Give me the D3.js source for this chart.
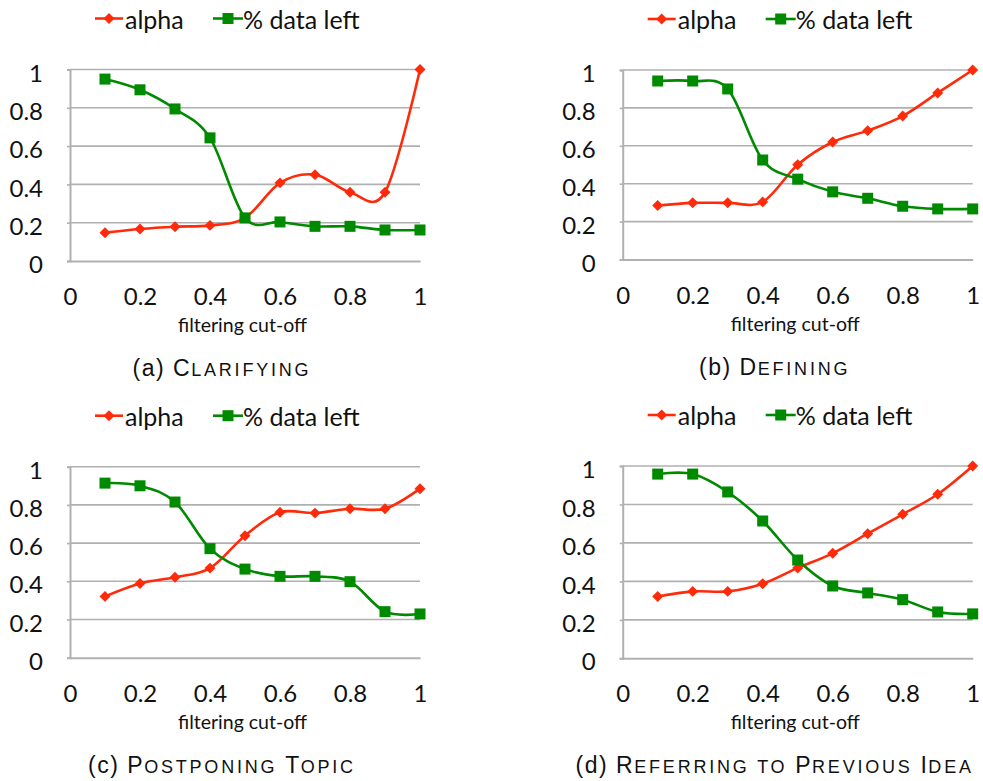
<!DOCTYPE html>
<html>
<head>
<meta charset="utf-8">
<script src="https://cdn.jsdelivr.net/npm/d3@7"></script>
<style>
  body { margin: 0; background: #fff; }
  svg { display: block; }
  .tick text { font-family: Lato, 'Noto Sans', sans-serif; }
</style>
</head>
<body>
<div id="chart"></div>
<script>
// filtering cut-off values (x)
var cutoff = [0.1, 0.2, 0.3, 0.4, 0.5, 0.6, 0.7, 0.8, 0.9, 1.0];
var xTicks = [0, 0.2, 0.4, 0.6, 0.8, 1];
var yTicks = [0, 0.2, 0.4, 0.6, 0.8, 1];

var seriesNames = ['alpha', '% data left'];
// caption parts: label, then words (first letter full cap, rest small caps)
var captionLabels = ['(a)', '(b)', '(c)', '(d)'];
var captionWords = [
  ['Clarifying'],
  ['Defining'],
  ['Postponing', 'Topic'],
  ['Referring', 'to', 'Previous', 'Idea']
];

// values
var alphaA = [0.148, 0.167, 0.179, 0.186, 0.225, 0.408, 0.451, 0.359, 0.359, 1.0];
var leftA  = [0.95, 0.894, 0.794, 0.643, 0.225, 0.204, 0.181, 0.181, 0.162, 0.162];
var alphaB = [0.285, 0.299, 0.299, 0.304, 0.50, 0.62, 0.68, 0.757, 0.879, 1.0];
var leftB  = [0.942, 0.942, 0.90, 0.525, 0.424, 0.357, 0.323, 0.281, 0.267, 0.267];
var alphaC = [0.321, 0.389, 0.421, 0.469, 0.639, 0.761, 0.757, 0.78, 0.78, 0.885];
var leftC  = [0.914, 0.90, 0.815, 0.571, 0.464, 0.426, 0.426, 0.398, 0.241, 0.229];
var alphaD = [0.321, 0.348, 0.348, 0.388, 0.47, 0.546, 0.648, 0.749, 0.853, 1.0];
var leftD  = [0.958, 0.958, 0.865, 0.714, 0.511, 0.376, 0.34, 0.305, 0.241, 0.231];

var panels = [
  {alpha: alphaA, left: leftA, cap: 0, x0: 70,    top: 69.5,  bottom: 261},
  {alpha: alphaB, left: leftB, cap: 1, x0: 622.7, top: 70,    bottom: 259.5},
  {alpha: alphaC, left: leftC, cap: 2, x0: 70,    top: 466.7, bottom: 657.7},
  {alpha: alphaD, left: leftD, cap: 3, x0: 622.7, top: 466,   bottom: 658.3}
];

var red = '#ff2a0a', green = '#008a00', grid = '#b0b0b0';
var plotW = 350;
var diamond = d3.symbol().type(d3.symbolSquare).size(60);

var svg = d3.select('#chart').append('svg')
  .attr('width', 983)
  .attr('height', 781);

panels.forEach(function(p) {
  var x = d3.scaleLinear().domain([0, 1]).range([p.x0, p.x0 + plotW]);
  var y = d3.scaleLinear().domain([0, 1]).range([p.bottom, p.top]);
  var g = svg.append('g');

  // horizontal grid lines
  g.selectAll('line.grid')
    .data(yTicks.slice(1))
    .enter().append('line')
    .attr('class', 'grid')
    .attr('x1', x(0)).attr('x2', x(1))
    .attr('y1', function(d) { return y(d); })
    .attr('y2', function(d) { return y(d); })
    .attr('stroke', grid)
    .attr('stroke-width', 1.6);

  // Y axis
  var yAxis = d3.axisLeft(y).tickValues(yTicks)
    .tickFormat(d3.format('~g'))
    .tickSize(3).tickPadding(24);
  var ya = g.append('g')
    .attr('transform', 'translate(' + x(0) + ',0)')
    .call(yAxis);
  ya.select('.domain').attr('stroke', grid).attr('stroke-width', 2);
  ya.selectAll('.tick line').attr('stroke', grid).attr('stroke-width', 1.6);
  ya.selectAll('text').attr('font-size', 24).attr('fill', '#111').attr('y', 4);

  // X axis
  var xAxis = d3.axisBottom(x).tickValues(xTicks)
    .tickFormat(d3.format('~g'))
    .tickSize(0).tickPadding(27);
  var xa = g.append('g')
    .attr('transform', 'translate(0,' + y(0) + ')')
    .call(xAxis);
  xa.select('.domain').attr('stroke', grid).attr('stroke-width', 2);
  xa.selectAll('text').attr('font-size', 24).attr('fill', '#111');

  // axis title
  g.append('text')
    .attr('x', p.x0 + 172.5)
    .attr('y', y(0) + 71)
    .attr('text-anchor', 'middle')
    .attr('font-family', 'Lato, sans-serif')
    .attr('font-size', 19.5)
    .attr('fill', '#111')
    .text('filtering cut-off');

  var line = d3.line()
    .x(function(d, i) { return x(cutoff[i]); })
    .y(function(d) { return y(d); })
    .curve(d3.curveCatmullRom.alpha(0));

  // alpha series
  g.append('path')
    .attr('d', line(p.alpha))
    .attr('fill', 'none')
    .attr('stroke', red)
    .attr('stroke-width', 2.6);
  g.selectAll('path.dia')
    .data(p.alpha)
    .enter().append('path')
    .attr('class', 'dia')
    .attr('transform', function(d, i) {
      return 'translate(' + x(cutoff[i]) + ',' + y(d) + ') rotate(45)';
    })
    .attr('d', diamond)
    .attr('fill', red);

  // % data left series
  g.append('path')
    .attr('d', line(p.left))
    .attr('fill', 'none')
    .attr('stroke', green)
    .attr('stroke-width', 2.6);
  g.selectAll('rect.sq')
    .data(p.left)
    .enter().append('rect')
    .attr('class', 'sq')
    .attr('x', function(d, i) { return x(cutoff[i]) - 5.5; })
    .attr('y', function(d) { return y(d) - 5.5; })
    .attr('width', 11).attr('height', 11)
    .attr('fill', green);

  // legend
  var ly = p.top - 51;
  var lg = g.append('g').attr('transform', 'translate(' + p.x0 + ',' + ly + ')');
  lg.append('line').attr('x1', 25).attr('x2', 53).attr('y1', 0).attr('y2', 0)
    .attr('stroke', red).attr('stroke-width', 2.6);
  lg.append('path').attr('transform', 'translate(39,0) rotate(45)')
    .attr('d', diamond).attr('fill', red);
  lg.append('text').attr('x', 55).attr('y', 10)
    .attr('font-family', 'Lato, sans-serif').attr('font-size', 25).attr('fill', '#111')
    .text(seriesNames[0]);
  lg.append('line').attr('x1', 143).attr('x2', 173).attr('y1', 0).attr('y2', 0)
    .attr('stroke', green).attr('stroke-width', 2.6);
  lg.append('rect').attr('x', 152.5).attr('y', -5.5).attr('width', 11).attr('height', 11)
    .attr('fill', green);
  lg.append('text').attr('x', 173).attr('y', 10)
    .attr('font-family', 'Lato, sans-serif').attr('font-size', 25).attr('fill', '#111')
    .text(seriesNames[1]);

  // caption, with small caps drawn as smaller spaced capitals
  var cap = g.append('text')
    .attr('x', p.x0 + 152)
    .attr('y', y(0) + 115)
    .attr('text-anchor', 'middle')
    .attr('font-family', "'Liberation Sans', Arial, sans-serif")
    .attr('fill', '#111');
  cap.append('tspan').attr('font-size', 23).attr('letter-spacing', 1.5)
    .text(captionLabels[p.cap] + ' ');
  captionWords[p.cap].forEach(function(w, i) {
    var first = w.charAt(0), rest = w.slice(1);
    if (first === first.toUpperCase()) {
      cap.append('tspan').attr('font-size', 23).attr('letter-spacing', 1.5).text(first);
    } else {
      rest = w;
    }
    cap.append('tspan').attr('font-size', 18).attr('letter-spacing', 2.8)
      .text(rest.toUpperCase() + (i < captionWords[p.cap].length - 1 ? ' ' : ''));
  });
});
</script>
</body>
</html>
